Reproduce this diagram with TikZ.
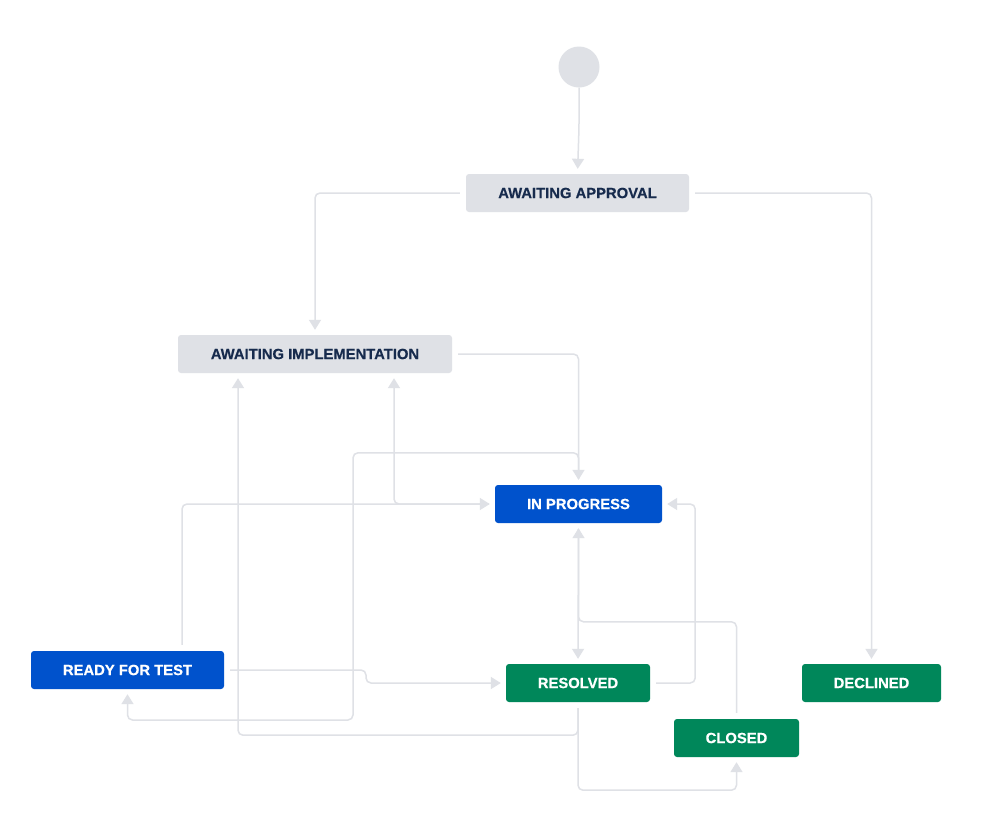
\documentclass[tikz,border=0pt]{standalone}
\usepackage{fontspec}
\setmainfont{Liberation Sans}[BoldFeatures={FakeBold=0.4}]
\usetikzlibrary{arrows.meta,calc}
\definecolor{lgrey}{HTML}{DFE1E6}
\definecolor{dtext}{HTML}{172B4D}
\definecolor{jblue}{HTML}{0052CC}
\definecolor{jgreen}{HTML}{00875A}
\begin{document}
\begin{tikzpicture}[x=1pt,y=-1pt,
  state/.style={rectangle,rounded corners=3pt,inner sep=0pt,minimum height=38pt,
    font=\fontsize{14.8}{16}\selectfont\bfseries},
  greystate/.style={state,fill=lgrey,text=dtext},
  bluestate/.style={state,fill=jblue,text=white},
  greenstate/.style={state,fill=jgreen,text=white},
  conn/.style={draw=lgrey,line width=1.5pt,rounded corners=5pt,
    -{Triangle[width=12pt,length=10pt]},shorten <=6pt,shorten >=5pt}]
\useasboundingbox[fill=white] (0,0) rectangle (999,823);

\node[circle,fill=lgrey,minimum size=41pt,inner sep=0pt] (start) at (579,67) {};
\node[greystate,minimum width=223pt] (aa) at (577.5,193) {AWAITING APPROVAL};
\node[greystate,minimum width=274pt] (ai) at (315,354) {AWAITING IMPLEMENTATION};
\node[bluestate,minimum width=167pt] (ip) at (578.5,504) {IN PROGRESS};
\node[bluestate,minimum width=193pt] (rft) at (127.5,670) {READY FOR TEST};
\node[greenstate,minimum width=144pt] (res) at (578,683) {RESOLVED};
\node[greenstate,minimum width=139pt] (dec) at (871.5,683) {DECLINED};
\node[greenstate,minimum width=125pt] (cl) at (736.5,738) {CLOSED};

\coordinate (aiL) at ($(ai.south)+(-77,0)$);
\coordinate (aiR) at ($(ai.south)+(79,0)$);
\coordinate (rftT) at ($(rft.north)+(54.5,0)$);

% start -> awaiting approval
\draw[conn,shorten <=0pt] (start.south) -- ++(0,40) -- (aa.north);
% awaiting approval -> awaiting implementation / declined
\draw[conn] (aa.west) -| (ai.north);
\draw[conn] (aa.east) -| (dec.north);
% awaiting implementation -> in progress
\draw[conn] (ai.east) -| (ip.north);
% in progress -> awaiting implementation
\draw[conn] (ip.west) -| (aiR);
% ready for test -> in progress
\draw[conn] (rftT) |- (ip.west);
% in progress -> ready for test
\draw[conn] (ip.north) -- ++(0,-32) -| (353,720) -| (rft.south);
% ready for test -> resolved
\draw[conn] (rft.east) -- (366,670) -- (366,683) -- (res.west);
% resolved -> awaiting implementation
\draw[conn] (res.south) -- ++(0,33) -| (aiL);
% resolved -> closed
\draw[conn] (res.south) -- ++(0,88) -| (cl.south);
% closed -> in progress
\draw[conn] (cl.north) -- ++(0,-97) -| (ip.south);
% in progress -> resolved
\draw[conn] (ip.south) -- (res.north);
% resolved -> in progress
\draw[conn] (res.east) -- ++(45,0) |- (ip.east);
\end{tikzpicture}
\end{document}
